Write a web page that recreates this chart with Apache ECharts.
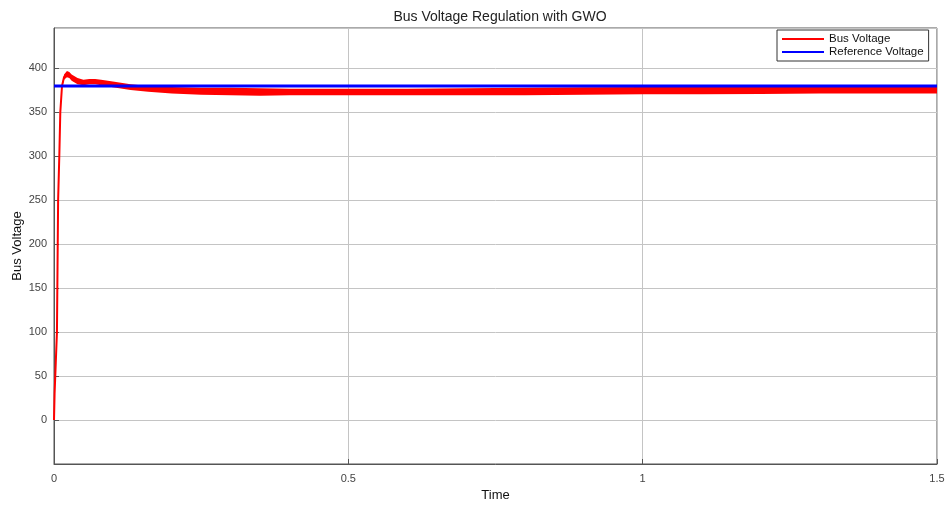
<!DOCTYPE html>
<html>
<head>
<meta charset="utf-8">
<title>Bus Voltage Regulation with GWO</title>
<script src="https://cdn.jsdelivr.net/npm/echarts@6/dist/echarts.min.js"></script>
<style>
  html, body { margin: 0; padding: 0; background: #fff; }
  #chart { width: 949px; height: 507px; }
</style>
</head>
<body>
<div id="chart"></div>
<script>
// bus voltage trace (centre of the red trace)
const timePts = [0, 0.001, 0.003, 0.005, 0.006, 0.007, 0.009, 0.0107, 0.0136, 0.017, 0.022, 0.026, 0.03, 0.035, 0.04, 0.05, 0.06, 0.07, 0.08, 0.1, 0.13, 0.16, 0.2, 0.25, 0.3, 0.35, 0.4, 0.5, 0.6, 0.7, 0.8, 0.9, 1.0, 1.1, 1.2, 1.3, 1.4, 1.5];
const busV = [0, 30, 65, 100, 175, 250, 300, 350, 380, 390, 393, 392, 389, 386, 385, 384, 385, 385, 384, 382, 379, 377, 375.5, 374.5, 374, 373.5, 373.5, 373.5, 373.5, 373.5, 374, 374.5, 375, 375, 375.5, 375.5, 375.5, 375.5];

// ripple envelope of the red trace (lower / upper edge)
const bandTime = [0.014, 0.017, 0.022, 0.026, 0.03, 0.04, 0.05, 0.06, 0.07, 0.08, 0.1, 0.13, 0.16, 0.2, 0.25, 0.3, 0.35, 0.4, 0.5, 0.6, 0.7, 0.8, 0.9, 1.0, 1.1, 1.2, 1.3, 1.4, 1.5];
const bandLow = [379, 387, 390, 389, 386, 382, 381, 382, 382, 381, 378.5, 375.5, 373.5, 371.5, 370, 369.5, 369, 369.5, 369.5, 369.5, 369.5, 369.5, 370, 370.5, 370.5, 371, 371.5, 371.5, 371.5];
const bandHigh = [383, 393, 397, 396, 393, 389, 387, 388, 388, 387, 385, 382, 380, 379, 378, 378, 377.5, 377, 377, 377, 377.5, 378, 378.5, 379, 379, 379, 379, 379, 379];

// reference voltage
const refTime = [0, 1.5];
const refV = [380, 380];

const xTicks = { min: 0, max: 1.5, interval: 0.5 };
const yTicks = { min: -50, max: 446, interval: 50 };

const font = 'Liberation Sans, Arial, Helvetica, sans-serif';

let myChart = echarts.init(document.getElementById('chart'));

// fills the area between the lower and upper ripple edge
function renderBand(params, api) {
  if (params.dataIndex !== 0) return;
  const pts = [];
  for (let i = 0; i < bandTime.length; i++) pts.push(api.coord([bandTime[i], bandHigh[i]]));
  for (let i = bandTime.length - 1; i >= 0; i--) pts.push(api.coord([bandTime[i], bandLow[i]]));
  return { type: 'polygon', shape: { points: pts }, style: { fill: '#ff0000' } };
}

myChart.setOption({
  animation: false,
  backgroundColor: '#fff',
  title: {
    text: 'Bus Voltage Regulation with GWO',
    left: 495, top: 5, textAlign: 'center',
    textStyle: { fontFamily: font, fontSize: 14, fontWeight: 'normal', color: '#222' }
  },
  legend: {
    data: ['Bus Voltage', 'Reference Voltage'],
    orient: 'vertical',
    left: 777, top: 30,
    padding: [3, 5, 3, 4],
    itemWidth: 42, itemHeight: 10, itemGap: 1,
    itemStyle: { opacity: 0 },
    borderColor: '#333', borderWidth: 1, borderRadius: 0,
    backgroundColor: '#fff',
    textStyle: { fontFamily: font, fontSize: 11.5, color: '#111' }
  },
  grid: {
    left: 54, right: 12, top: 28, bottom: 43,
    show: true, borderColor: '#555', borderWidth: 1
  },
  xAxis: {
    type: 'value',
    min: xTicks.min, max: xTicks.max, interval: xTicks.interval,
    name: 'Time', nameLocation: 'middle', nameGap: 25,
    nameTextStyle: { fontFamily: font, fontSize: 13, color: '#111' },
    axisLine: { onZero: false, lineStyle: { color: '#555' } },
    axisTick: { inside: true, length: 5, lineStyle: { color: '#555' } },
    axisLabel: { fontFamily: font, fontSize: 11, color: '#444', margin: 9 },
    splitLine: { show: true, lineStyle: { color: '#c4c4c4', width: 1 } }
  },
  yAxis: {
    type: 'value',
    min: yTicks.min, max: yTicks.max, interval: yTicks.interval,
    name: 'Bus Voltage', nameLocation: 'middle', nameGap: 30,
    nameMoveOverlap: false,
    nameTextStyle: { fontFamily: font, fontSize: 13, color: '#111' },
    axisLine: { show: true, onZero: false, lineStyle: { color: '#555' } },
    axisTick: { show: true, inside: true, length: 5, lineStyle: { color: '#555' } },
    axisLabel: { fontFamily: font, fontSize: 11, color: '#444', margin: 7, showMinLabel: false, showMaxLabel: false },
    splitLine: { show: true, lineStyle: { color: '#c4c4c4', width: 1 } }
  },
  series: [
    {
      name: 'Bus Voltage',
      type: 'line',
      symbol: 'none',
      z: 3,
      lineStyle: { color: '#ff0000', width: 2 },
      itemStyle: { color: '#ff0000' },
      data: timePts.map((t, i) => [t, busV[i]])
    },
    {
      name: 'ripple',
      type: 'custom',
      z: 3,
      renderItem: renderBand,
      encode: { x: 0, y: [1, 2] },
      data: bandTime.map((t, i) => [t, bandLow[i], bandHigh[i]])
    },
    {
      name: 'Reference Voltage',
      type: 'line',
      symbol: 'none',
      z: 4,
      lineStyle: { color: '#0000ff', width: 3 },
      itemStyle: { color: '#0000ff' },
      data: refTime.map((t, i) => [t, refV[i]])
    }
  ]
});
</script>
</body>
</html>
